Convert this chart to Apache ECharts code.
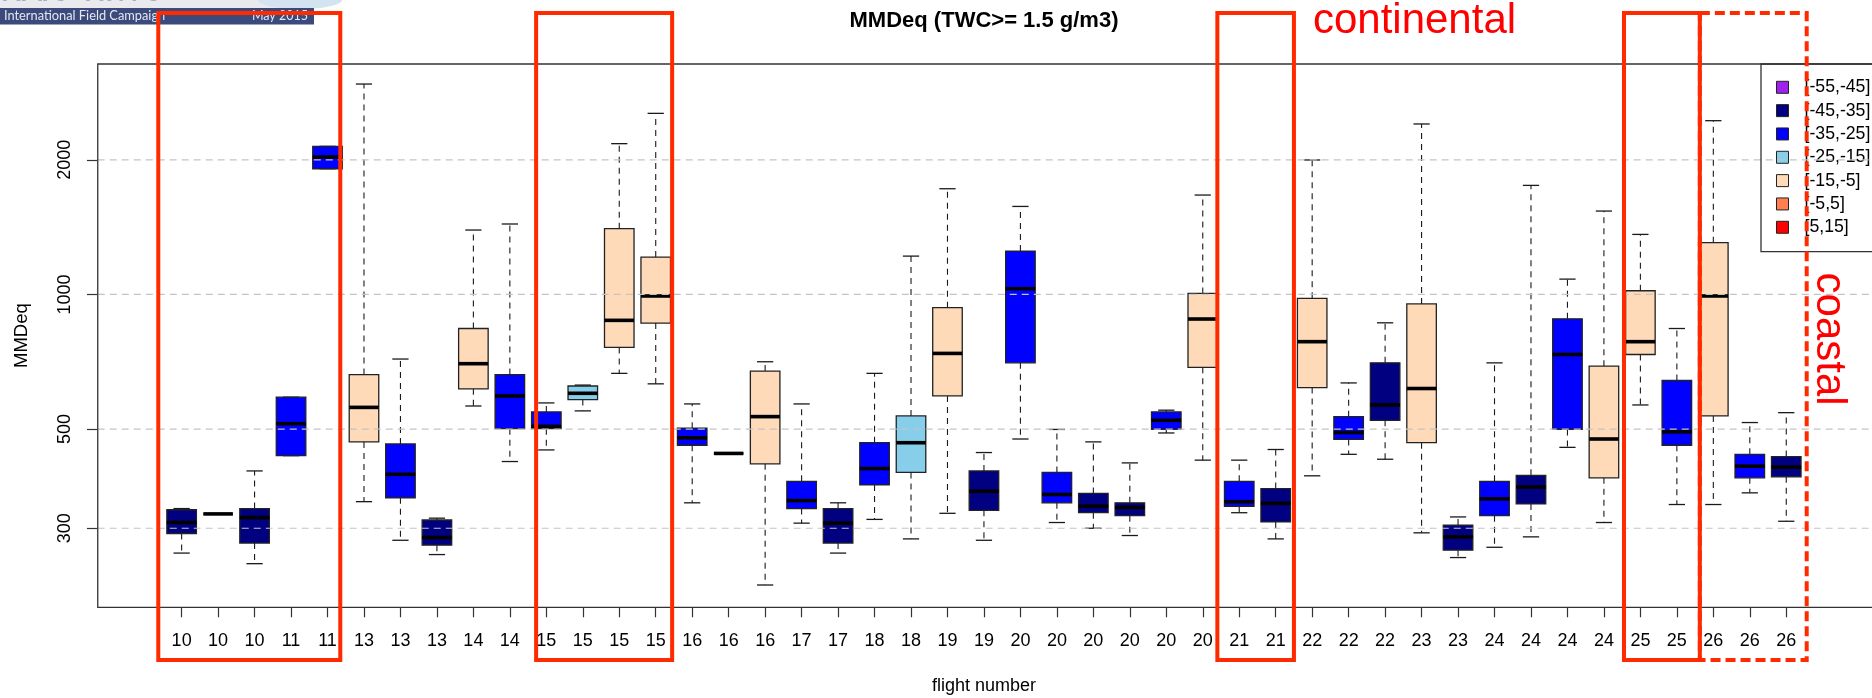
<!DOCTYPE html>
<html>
<head>
<meta charset="utf-8">
<script src="https://cdn.jsdelivr.net/npm/echarts@6/dist/echarts.min.js"></script>
<style>
html,body{margin:0;padding:0;background:#fff;}
#chart{width:1872px;height:698px;}
</style>
</head>
<body>
<div id="chart"></div>
<script>
// ---------------- data ----------------
const categories = ['10','10','10','11','11','13','13','13','14','14','15','15','15','15','16','16','16','17','17','18','18','19','19','20','20','20','20','20','20','21','21','22','22','22','23','23','24','24','24','24','25','25','26','26','26'];
const lowWhisker    = [264,323,250,436,1910,344,282,262,563,423,449,549,666,631,342,441,224,308,264,314,284,324,282,475,309,300,289,490,426,325,284,393,439,428,293,258,272,287,455,309,566,339,339,360,311];
const lowerQuartile = [292,323,278,436,1910,468,351,275,615,501,501,582,761,863,460,441,418,332,278,375,400,593,329,703,342,325,320,499,687,336,310,619,474,523,466,268,320,340,499,389,734,460,535,389,391];
const medians       = [309,323,317,514,2029,559,396,286,700,593,507,601,875,992,478,441,533,346,308,408,466,738,363,1030,357,336,334,523,881,344,341,784,491,566,616,287,349,371,734,475,784,493,992,413,411];
const upperQuartile = [330,323,332,589,2143,662,463,313,839,662,546,624,1403,1212,502,441,674,382,332,466,535,934,403,1250,400,359,342,546,1005,382,368,980,533,703,952,305,382,394,882,691,1019,642,1305,439,434];
const highWhisker   = [332,323,403,589,2143,2954,717,316,1393,1437,572,627,2173,2540,569,441,707,569,342,666,1218,1723,443,1573,499,468,420,551,1668,426,450,1998,634,864,2405,318,703,1753,1082,1536,1362,839,2446,517,544];
// temperature class of each box (index into tempClasses)
const tempClassOfBox = [1,1,1,2,2,4,2,1,4,2,2,3,4,4,2,2,4,2,1,2,3,4,1,2,2,1,1,2,4,2,1,4,2,1,4,1,2,1,2,4,4,2,4,2,1];
const tempClasses = ['[-55,-45]','[-45,-35]','[-35,-25]','[-25,-15]','[-15,-5]','[-5,5]','[5,15]'];
const classColors = ['#A020F0','#000080','#0000FF','#87CEEB','#FFDAB9','#FF7F50','#FF0000'];
const yTicks = [300, 500, 1000, 2000];
const yMin = 199.7, yMax = 3275;

// annotation groups (category index ranges)
const annotGroups = [
  {from: 0,  to: 4,  l: 0.64, r: 0.35, dashed: false},
  {from: 10, to: 13, l: 0.28, r: 0.45, dashed: false},
  {from: 29, to: 30, l: 0.60, r: 0.50, dashed: false},
  {from: 40, to: 41, l: 0.45, r: 0.63, dashed: false},
  {from: 42, to: 44, l: 0.37, r: 0.56, dashed: true}
];

// ---------------- chart ----------------
const FONT = "'Liberation Sans', Arial, Helvetica, sans-serif";
const boxData = categories.map((c, i) => [i, lowWhisker[i], lowerQuartile[i], medians[i], upperQuartile[i], highWhisker[i], tempClassOfBox[i]]);

function renderBox(params, api) {
  const i = api.value(0);
  const xC = api.coord([i, api.value(3)])[0];
  const yLow = api.coord([i, api.value(1)])[1];
  const yQ1 = api.coord([i, api.value(2)])[1];
  const yMed = api.coord([i, api.value(3)])[1];
  const yQ3 = api.coord([i, api.value(4)])[1];
  const yHigh = api.coord([i, api.value(5)])[1];
  const band = api.size([1, 1])[0];
  const bw = band * 0.81, cw = bw * 0.55;
  const fill = classColors[api.value(6)];
  const wStyle = {stroke: '#1a1a1a', lineWidth: 1.1, lineDash: [6, 5]};
  const cStyle = {stroke: '#1a1a1a', lineWidth: 1.3};
  return {
    type: 'group',
    children: [
      {type: 'line', shape: {x1: xC, y1: yQ3, x2: xC, y2: yHigh}, style: wStyle},
      {type: 'line', shape: {x1: xC, y1: yQ1, x2: xC, y2: yLow}, style: wStyle},
      {type: 'line', shape: {x1: xC - cw / 2, y1: yHigh, x2: xC + cw / 2, y2: yHigh}, style: cStyle},
      {type: 'line', shape: {x1: xC - cw / 2, y1: yLow, x2: xC + cw / 2, y2: yLow}, style: cStyle},
      {type: 'rect', shape: {x: xC - bw / 2, y: yQ3, width: bw, height: yQ1 - yQ3}, style: {fill: fill, stroke: '#222', lineWidth: 1.3}},
      {type: 'line', shape: {x1: xC - bw / 2, y1: yMed, x2: xC + bw / 2, y2: yMed}, style: {stroke: '#000', lineWidth: 3.6}}
    ]
  };
}

const chart = echarts.init(document.getElementById('chart'), null, {renderer: 'canvas'});

const legendSeries = tempClasses.map((name, k) => ({
  type: 'scatter', name: name, data: [],
  itemStyle: {color: classColors[k], opacity: 1, borderColor: '#222', borderWidth: 1}
}));

const option = {
  animation: false,
  backgroundColor: '#ffffff',
  textStyle: {fontFamily: FONT},
  title: {
    text: 'MMDeq (TWC>= 1.5 g/m3)',
    left: 984, top: 10, padding: 0, textAlign: 'center',
    textStyle: {fontSize: 22, fontWeight: 'bold', color: '#000', fontFamily: FONT}
  },
  legend: {
    orient: 'vertical', left: 1776, top: 77.8,
    padding: 0,
    itemWidth: 12, itemHeight: 12, itemGap: 4.33,
    icon: 'rect',
    selectedMode: false,
    itemStyle: {borderColor: '#222', borderWidth: 1, opacity: 1},
    textStyle: {fontSize: 17.7, lineHeight: 19, color: '#000', fontFamily: FONT, padding: [0, 0, 0, 11]},
    data: tempClasses
  },
  grid: {left: 163.4, right: 67.5, top: 64, bottom: 90.7, containLabel: false, outerBoundsMode: 'none'},
  xAxis: {
    type: 'category', data: categories, boundaryGap: true,
    axisLine: {show: false},
    axisTick: {show: true, alignWithLabel: true, interval: 0, length: 10, lineStyle: {color: '#333', width: 1.2}},
    axisLabel: {interval: 0, margin: 24.7, fontSize: 18, color: '#000', fontFamily: FONT},
    splitLine: {show: false},
    name: 'flight number', nameLocation: 'middle', nameGap: 69.7,
    nameTextStyle: {fontSize: 18, color: '#000', fontFamily: FONT}
  },
  yAxis: {
    type: 'log', logBase: 10, min: yMin, max: yMax, offset: 66.4,
    axisLine: {show: false},
    axisTick: {show: true, length: 10, customValues: yTicks, lineStyle: {color: '#333', width: 1.2}},
    axisLabel: {rotate: 90, margin: 23, fontSize: 18, color: '#000', customValues: yTicks, fontFamily: FONT,
      formatter: v => String(Math.round(v))},
    splitLine: {show: false},
    minorTick: {show: false},
    name: 'MMDeq', nameLocation: 'middle', nameGap: 65.5, nameRotate: 90,
    nameTextStyle: {fontSize: 18.5, color: '#000', fontFamily: FONT}
  },
  series: [
    {
      type: 'custom', name: 'MMDeq', renderItem: renderBox,
      encode: {x: 0, y: [1, 2, 3, 4, 5]},
      data: boxData, z: 2, silent: true
    }
  ].concat(legendSeries)
};

chart.setOption(option);

// ---------------- decorations derived from the axes ----------------
const cx = i => chart.convertToPixel({xAxisIndex: 0}, i);
const cy = v => chart.convertToPixel({yAxisIndex: 0}, v);
const step = cx(1) - cx(0);
const frameL = cx(0) - 2.3 * step;
const frameR = cx(categories.length - 1) + 2.4 * step;
const frameT = cy(yMax), frameB = cy(yMin);

const RED = '#ff2a00';
const annTop = 13, annBottom = 660;
const elements = [];

// plot frame
elements.push({type: 'rect', z: 90, silent: true,
  shape: {x: frameL, y: frameT, width: frameR - frameL, height: frameB - frameT},
  style: {fill: 'none', stroke: '#333', lineWidth: 1.3}});

// legend frame
elements.push({type: 'rect', z: 90, silent: true,
  shape: {x: 1761, y: frameT, width: 200, height: 251.7 - frameT},
  style: {fill: 'none', stroke: '#333', lineWidth: 1.3}});

// dashed horizontal grid lines at tick values
yTicks.forEach(v => {
  const y = cy(v);
  elements.push({type: 'line', z: 80, silent: true,
    shape: {x1: frameL, y1: y, x2: frameR, y2: y},
    style: {stroke: '#c4c4c4', lineWidth: 1.2, lineDash: [7, 5]}});
});

// banner (top-left)
elements.push({type: 'rect', z: 150, shape: {x: 0, y: 0, width: 314, height: 8}, style: {fill: '#e9e9ee'}});
elements.push({type: 'ellipse', z: 151, shape: {cx: 300, cy: 0, rx: 42, ry: 9}, style: {fill: '#d3e4f0'}});
elements.push({type: 'text', z: 152, x: 1, y: 5, style: {text: 'HAIC\u2022HIWC', font: "28px 'Lato', sans-serif", fill: '#e3e6ef', stroke: '#6a79a3', lineWidth: 1, verticalAlign: 'bottom', align: 'left'}});
elements.push({type: 'rect', z: 153, shape: {x: 0, y: 8, width: 314, height: 16.5}, style: {fill: '#3b4a7b'}});
elements.push({type: 'text', z: 154, x: 4, y: 16.3, style: {text: 'International Field Campaign', font: "12.8px 'Lato', sans-serif", fill: '#e4e7f2', verticalAlign: 'middle', align: 'left'}});
elements.push({type: 'text', z: 154, x: 308, y: 16.3, style: {text: 'May 2015', font: "12.5px 'Lato', sans-serif", fill: '#e4e7f2', verticalAlign: 'middle', align: 'right'}});

// red annotation boxes
const boxEdges = annotGroups.map(g => ({left: cx(g.from) - g.l * step, right: cx(g.to) + g.r * step, dashed: g.dashed}));
boxEdges.forEach(b => {
  elements.push({type: 'rect', z: 200, silent: true,
    shape: {x: b.left, y: annTop, width: b.right - b.left, height: annBottom - annTop},
    style: {fill: 'none', stroke: RED, lineWidth: 4, lineDash: b.dashed ? [10, 5] : null}});
});
// labels
elements.push({type: 'text', z: 201, x: boxEdges[2].right + 19, y: 21.5,
  style: {text: 'continental', font: "42px " + FONT, fill: '#ff0000', align: 'left', verticalAlign: 'middle'}});
elements.push({type: 'text', z: 201, x: boxEdges[4].right + 21.4, y: (frameT + frameB) / 2 + 3.5, rotation: -Math.PI / 2,
  style: {text: 'coastal', font: "42px " + FONT, fill: '#ff0000', align: 'center', verticalAlign: 'middle'}});

chart.setOption({graphic: {elements: elements}});
</script>
</body>
</html>
